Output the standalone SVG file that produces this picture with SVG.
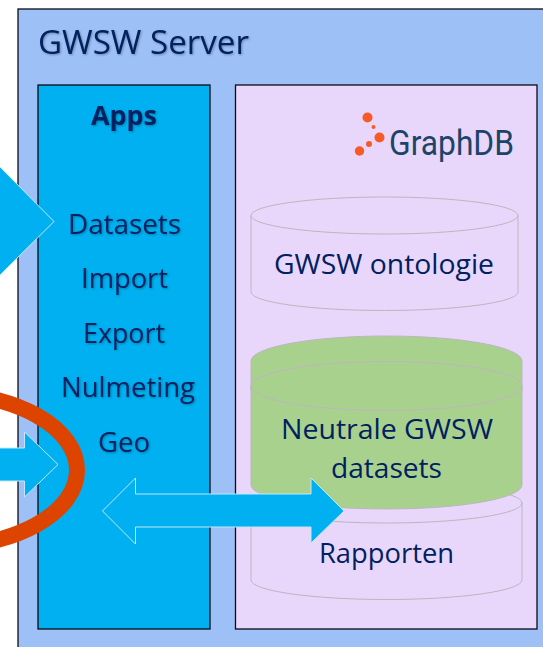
<svg xmlns="http://www.w3.org/2000/svg" width="543" height="647" viewBox="0 0 543 647">
<defs>
<style>
text{font-family:"Open Sans","Noto Sans","Liberation Sans",sans-serif;fill:#002060;text-anchor:middle}
.box{stroke:#0c0c14;stroke-width:1.3}
.cyl{stroke:#bdb5c0;stroke-width:1}
.arrow{fill:#00b0f0;stroke:#c4e6f8;stroke-width:1}
.lbl{font-size:27px}
.app{font-size:27px;filter:url(#soft)}
</style>
<filter id="soft" x="-10%" y="-20%" width="120%" height="140%"><feDropShadow dx="1" dy="1" stdDeviation="1" flood-color="#000" flood-opacity="0.3"/></filter>
</defs>
<rect width="543" height="647" fill="#fff"/>
<g id="server">
<rect class="box" x="18" y="9" width="530" height="645" fill="#9dc0f6"/>
<text x="143.500" y="54" font-size="33" filter="url(#soft)" textLength="211" lengthAdjust="spacingAndGlyphs">GWSW Server</text>
</g>
<g id="apps">
<rect class="box" x="38" y="85" width="172" height="544" fill="#00b0f0"/>
<text class="app" x="124" y="125" font-weight="700" textLength="66" lengthAdjust="spacingAndGlyphs">Apps</text>
<text class="app" x="124.500" y="234" textLength="113" lengthAdjust="spacingAndGlyphs">Datasets</text>
<text class="app" x="124.500" y="288" textLength="87" lengthAdjust="spacingAndGlyphs">Import</text>
<text class="app" x="124" y="343" textLength="82" lengthAdjust="spacingAndGlyphs">Export</text>
<text class="app" x="128" y="397" textLength="134" lengthAdjust="spacingAndGlyphs">Nulmeting</text>
<text class="app" x="124" y="452" textLength="52" lengthAdjust="spacingAndGlyphs">Geo</text>
</g>
<g id="graphdb">
<rect class="box" x="235.500" y="85" width="301.500" height="544" fill="#e9d7fb"/>
<g fill="#f95a25"><circle cx="367.500" cy="117.500" r="5"/><circle cx="373.500" cy="127" r="2"/><circle cx="379.500" cy="137.500" r="5"/><circle cx="369" cy="144" r="3"/><circle cx="359.500" cy="151" r="4.700"/></g>
<text x="451.500" y="155" font-size="35" style="fill:#1c4468;font-family:'Roboto','Noto Sans',sans-serif;font-weight:400" textLength="125" lengthAdjust="spacingAndGlyphs">GraphDB</text>
</g>
<g id="ontologie">
<path class="cyl" fill="#e9d7fb" d="M251 215.500a133.500 18.500 0 0 1 267 0v76.500a133.500 18.500 0 0 1-267 0z"/>
<path class="cyl" fill="none" d="M251 215.500a133.500 18.500 0 0 0 267 0"/>
<text class="lbl" x="384" y="274" textLength="220" lengthAdjust="spacingAndGlyphs">GWSW ontologie</text>
</g>
<g id="rapporten">
<path class="cyl" fill="#e9d7fb" d="M251 503a135.500 20 0 0 1 271 0v77a135.500 19.500 0 0 1-271 0z"/>
<path class="cyl" fill="none" d="M251 503a135.500 20 0 0 0 271 0"/>
<text class="lbl" x="386.500" y="563" textLength="135" lengthAdjust="spacingAndGlyphs">Rapporten</text>
</g>
<g id="neutrale-back">
<path class="cyl" fill="#a9d18e" d="M251 361a135.500 25 0 0 1 271 0v30h-271z"/>
</g>
<g id="neutrale">
<path class="cyl" fill="#a9d18e" d="M251 386a135.500 24.500 0 0 1 271 0v99a135.500 24 0 0 1-271 0z"/>
<path class="cyl" fill="none" d="M251 386a135.500 24.500 0 0 0 271 0"/>
<text class="lbl" x="387" y="439" textLength="212" lengthAdjust="spacingAndGlyphs">Neutrale GWSW</text>
<text class="lbl" x="386.500" y="478" textLength="111" lengthAdjust="spacingAndGlyphs">datasets</text>
</g>
<g id="connectors">
<path class="arrow" d="M-1 166L54 221.500L-1 276z"/>
<ellipse cx="-60" cy="470" rx="137" ry="77" fill="none" stroke="#dd4400" stroke-width="16"/>
<path class="arrow" d="M-1 448H24.500V432L58 464.500L24.500 497V481H-1z"/>
<path class="arrow" d="M102.500 511L135.500 478V494H311V478L344 511L311 543V527H135.500V544z"/>
</g>
</svg>
